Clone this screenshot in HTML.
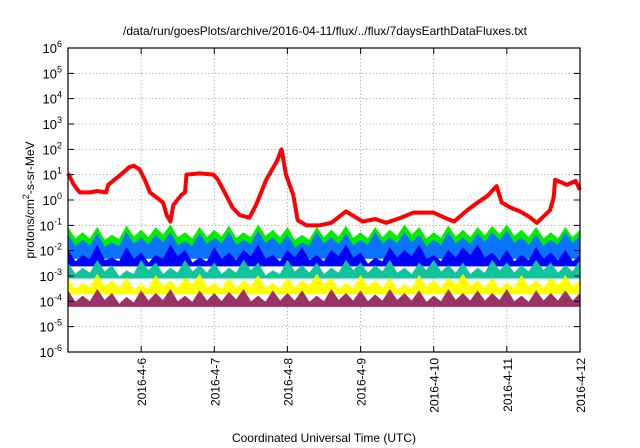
<!DOCTYPE html>
<html><head><meta charset="utf-8"><style>
body{margin:0;background:#fff;}
svg{display:block;font-family:"Liberation Sans",sans-serif;}
</style></head><body>
<svg id="chart" width="640" height="448" viewBox="0 0 640 448" xmlns="http://www.w3.org/2000/svg">
<text x="325" y="35" font-size="12" text-anchor="middle">/data/run/goesPlots/archive/2016-04-11/flux/../flux/7daysEarthDataFluxes.txt</text>
<text x="324" y="442" font-size="12" text-anchor="middle">Coordinated Universal Time (UTC)</text>
<text transform="translate(34,200) rotate(-90)" font-size="12" text-anchor="middle">protons/cm<tspan dy="-5" font-size="9">2</tspan><tspan dy="5">-s-sr-MeV</tspan></text>
<g id="grid"></g><g id="series"></g><g id="axes"></g>
</svg>
<script>
const xTickLabels=["2016-4-6","2016-4-7","2016-4-8","2016-4-9","2016-4-10","2016-4-11","2016-4-12"];
const xTickDays=[1,2,3,4,5,6,7];
const yTickExps=[-6,-5,-4,-3,-2,-1,0,1,2,3,4,5,6];
const redDays=[0,0.08,0.16,0.3,0.4,0.52,0.55,0.7,0.84,0.9,0.98,1.05,1.12,1.21,1.3,1.35,1.4,1.44,1.55,1.6,1.62,1.8,1.99,2.05,2.16,2.25,2.35,2.48,2.57,2.71,2.85,2.88,2.92,2.95,2.98,3.08,3.14,3.26,3.44,3.6,3.8,4.03,4.2,4.35,4.55,4.72,5.0,5.15,5.28,5.46,5.6,5.73,5.86,5.93,6.05,6.18,6.3,6.41,6.59,6.64,6.66,6.82,6.94,7.0];
const redLog=[1.05,0.6,0.3,0.3,0.35,0.3,0.6,0.95,1.3,1.35,1.2,0.8,0.3,0.1,-0.1,-0.6,-0.85,-0.2,0.2,0.3,1.0,1.05,1.0,0.8,0.2,-0.3,-0.6,-0.7,-0.2,0.8,1.5,1.7,2.0,1.5,1.0,0.2,-0.8,-1.0,-1.0,-0.9,-0.45,-0.85,-0.75,-0.9,-0.7,-0.5,-0.5,-0.7,-0.85,-0.4,-0.1,0.15,0.55,-0.1,-0.3,-0.45,-0.65,-0.9,-0.4,0.1,0.8,0.6,0.75,0.4];
const bandDays=[0,0.2,0.4,0.6,0.8,1.0,1.2,1.4,1.6,1.8,2.0,2.2,2.4,2.6,2.8,3.0,3.2,3.4,3.6,3.8,4.0,4.2,4.4,4.6,4.8,5.0,5.2,5.4,5.6,5.8,6.0,6.2,6.4,6.6,6.8,7.0];
const greenTop=[-1.1,-1.3,-1.1,-1.4,-1.05,-1.2,-1.1,-1.0,-1.3,-1.1,-1.2,-1.05,-1.3,-1.0,-1.2,-1.1,-1.4,-1.1,-1.2,-1.05,-1.3,-1.1,-1.2,-1.0,-1.1,-1.3,-1.05,-1.2,-1.1,-1.05,-1.0,-1.2,-1.1,-1.3,-1.1,-1.2];
const lightBlueTop=[-1.4,-1.6,-1.35,-1.7,-1.3,-1.5,-1.4,-1.3,-1.65,-1.35,-1.5,-1.3,-1.6,-1.25,-1.5,-1.4,-1.7,-1.3,-1.5,-1.35,-1.6,-1.3,-1.5,-1.3,-1.4,-1.6,-1.3,-1.5,-1.35,-1.3,-1.25,-1.5,-1.4,-1.6,-1.3,-1.45];
const blueTop=[-2.0,-2.2,-1.8,-2.3,-1.9,-2.1,-2.2,-1.8,-2.0,-2.3,-1.9,-2.1,-2.0,-1.8,-2.2,-2.0,-1.9,-2.2,-2.0,-1.8,-2.1,-2.3,-1.9,-2.0,-1.8,-2.2,-2.0,-1.9,-1.8,-2.1,-2.0,-2.2,-1.9,-2.1,-2.0,-2.2];
const tealTop=[-2.5,-2.7,-2.4,-2.6,-2.8,-2.4,-2.5,-2.7,-2.4,-2.6,-2.5,-2.7,-2.4,-2.5,-2.8,-2.4,-2.6,-2.5,-2.7,-2.4,-2.5,-2.6,-2.4,-2.7,-2.5,-2.4,-2.6,-2.5,-2.7,-2.4,-2.5,-2.6,-2.4,-2.5,-2.6,-2.4];
const yellowTop=[-3.1,-3.3,-2.95,-3.2,-3.1,-3.35,-3.0,-3.2,-3.1,-2.95,-3.3,-3.1,-3.2,-3.0,-3.3,-3.1,-3.2,-2.95,-3.1,-3.3,-3.0,-3.2,-3.1,-3.35,-3.0,-3.2,-3.1,-2.95,-3.2,-3.1,-3.3,-3.0,-3.2,-3.1,-3.0,-3.2];
const maroonTop=[-3.6,-3.8,-3.55,-3.7,-3.85,-3.6,-3.7,-3.55,-3.8,-3.6,-3.7,-3.65,-3.55,-3.8,-3.6,-3.7,-3.6,-3.8,-3.55,-3.7,-3.6,-3.75,-3.55,-3.7,-3.6,-3.8,-3.55,-3.7,-3.6,-3.7,-3.55,-3.8,-3.6,-3.7,-3.6,-3.7];
const bandFloors=[-2.3,-2.3,-2.6,-3.08,-3.7,-4.2];

const NS="http://www.w3.org/2000/svg";
const L=68,R=580,T=48,B=352;
const xS=d=>L+(R-L)*d/7;
const yS=v=>B-(B-T)*(v+6)/12;
function mk(tag,attrs,parent){const e=document.createElementNS(NS,tag);for(const k in attrs)e.setAttribute(k,attrs[k]);parent.appendChild(e);return e;}
const grid=document.getElementById('grid'),ser=document.getElementById('series'),ax=document.getElementById('axes');
yTickExps.forEach(e=>{
  const y=yS(e);
  if(e>-6&&e<6){const g=mk('line',{x1:L,x2:R,y1:y,y2:y,stroke:'#aaa','stroke-width':0.8,'stroke-dasharray':'1.5,2'},grid);
  
  }
  const tk=mk('path',{d:`M${L},${y}h6M${R},${y}h-6`,stroke:'#000','stroke-width':1},ax);
  
  
  const t=mk('text',{x:L-6,y:y+5,'font-size':13,'text-anchor':'end'},ax);
  
  
  t.innerHTML='10<tspan dy="-6" font-size="9">'+e+'</tspan>';
});
xTickDays.forEach((d,i)=>{
  const x=xS(d);
  if(d<7){const g=mk('line',{x1:x,x2:x,y1:T,y2:B,stroke:'#aaa','stroke-width':0.8,'stroke-dasharray':'1.5,2'},grid);
  
  }
  const tk=mk('path',{d:`M${x},${B}v-6M${x},${T}v6`,stroke:'#000','stroke-width':1},ax);
  
  
  const t=mk('text',{transform:`translate(${x+5},${B+6}) rotate(-90)`,'font-size':12,'text-anchor':'end'},ax);
  
  
  t.textContent=xTickLabels[i];
});
const bands=[[greenTop,'#00ee00','green-band'],[lightBlueTop,'#0a74ff','light-blue-band'],[blueTop,'#0000ff','blue-band'],[tealTop,'#10c49c','teal-band'],[yellowTop,'#ffff00','yellow-band'],[maroonTop,'#993366','maroon-band']];
bands.forEach((b,i)=>{
  const top=b[0];
  let d='M'+xS(bandDays[0])+','+yS(bandFloors[i]);
  bandDays.forEach((dd,j)=>{d+='L'+xS(dd)+','+yS(top[j]);if(j<bandDays.length-1)d+='L'+(xS(dd)+xS(bandDays[j+1]))/2+','+yS((top[j]+top[j+1])/2-0.35);});
  d+='L'+xS(7)+','+yS(bandFloors[i])+'Z';
  const p=mk('path',{d:d,fill:b[1],stroke:b[1],'stroke-width':1},ser);
  
  
});
let rd='';
redDays.forEach((d,i)=>{rd+=(i?'L':'M')+xS(d)+','+yS(redLog[i]);});
const rp=mk('path',{d:rd,fill:'none',stroke:'#ff0000','stroke-width':4,'stroke-linejoin':'round'},ser);


const fr=mk('rect',{x:L,y:T,width:R-L,height:B-T,fill:'none',stroke:'#000','stroke-width':1.2},ax);


</script>
</body></html>
